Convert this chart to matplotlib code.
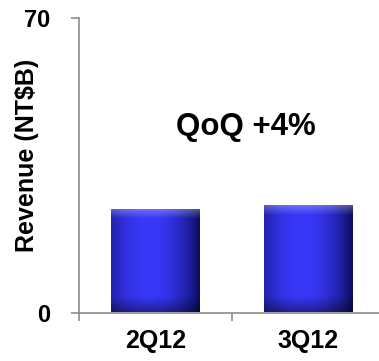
import numpy as np
import matplotlib
matplotlib.use("Agg")
import matplotlib.pyplot as plt

plt.rcParams["font.family"] = ["Liberation Sans", "DejaVu Sans"]
plt.rcParams["font.weight"] = "bold"

quarters = ["2Q12", "3Q12"]
revenue = [24.5, 25.5]
note = "QoQ +4%"


def bar_shading(nx=120, ny=200):
    # horizontal: dark edges, bright centre a bit left of middle
    t = np.linspace(0, 1, nx)
    h = np.clip(1 - ((t - 0.42) / 0.6) ** 2, 0, 1) ** 0.9
    dark = np.array([0.03, 0.03, 0.30])
    light = np.array([0.22, 0.22, 0.98])
    img = dark + (light - dark) * h[None, :, None]
    img = np.repeat(img, ny, axis=0)
    # vertical: darker at the bottom, bevel highlight at the top
    v = np.linspace(0, 1, ny)[:, None, None]  # 0 = top row
    img = img * (1 - 0.4 * np.clip((v - 0.85) / 0.15, 0, 1))
    bevel = np.clip(1 - v / 0.1, 0, 1) * 0.3
    img = img + (1 - img) * bevel
    return np.clip(img, 0, 1)


fig = plt.figure(figsize=(3.79, 3.61), dpi=100)
ax = fig.add_axes([79 / 379, 48.5 / 361, 306 / 379, 294.5 / 361])

x = np.arange(len(quarters))
bars = ax.bar(x, revenue, width=0.58, color="none", edgecolor="none", zorder=2)
shade = bar_shading()
for b in bars:
    im = ax.imshow(shade, extent=[b.get_x(), b.get_x() + b.get_width(), 0, b.get_height()],
                   aspect="auto", zorder=3, interpolation="bilinear")
    im.set_clip_path(b)

ax.set_xlim(-0.5, 1.5)
ax.set_ylim(0, 70)
ax.set_yticks([0, 70])
ax.set_xticks([-0.5, 0.5, 1.5])
ax.set_xticklabels([])
ax.set_xticks(x, minor=True)
ax.set_xticklabels(quarters, minor=True)
ax.tick_params(axis="x", which="minor", length=0, pad=12, labelsize=18)
ax.tick_params(axis="x", which="major", length=6, width=1.2, color="#8c8c8c")
ax.tick_params(axis="y", which="major", length=6, width=1.2, color="#8c8c8c", pad=15,
               labelsize=17)

for side in ["top", "right"]:
    ax.spines[side].set_visible(False)
for side in ["left", "bottom"]:
    ax.spines[side].set_color("#8c8c8c")
    ax.spines[side].set_linewidth(1.2)

ax.set_ylabel("Revenue (NT$B)", fontsize=18, fontweight="bold")
ax.yaxis.label.set_va("center")
ax.yaxis.set_label_coords(-0.17, 0.533)

ax.text(0.59, 44.2, note, ha="center", va="center", fontsize=22.5, fontweight="bold")

fig.savefig("out.png", dpi=100)
